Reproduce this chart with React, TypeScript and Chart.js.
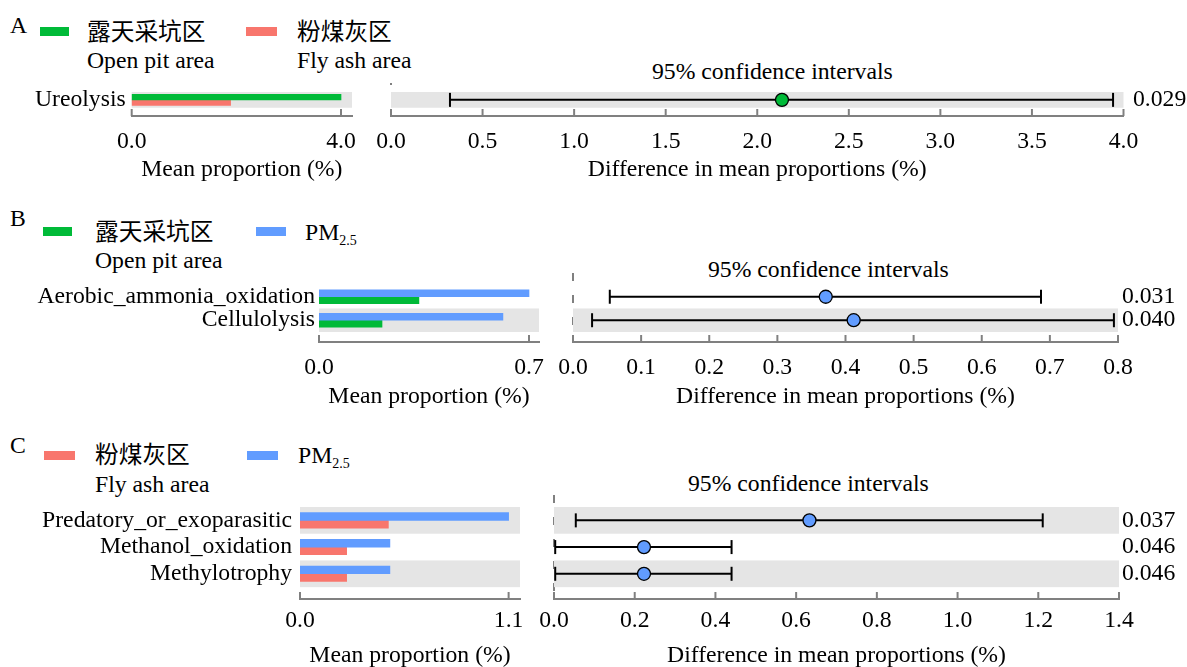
import React, { useEffect, useRef } from "react";
import { Chart, registerables } from "chart.js";
Chart.register(...registerables);

const FONT = "'Liberation Serif', 'Noto Sans CJK SC', serif";
Chart.defaults.font.family = FONT;
Chart.defaults.color = "#000";

const GREEN = "#00BA38";
const RED = "#F8766D";
const BLUE = "#619CFF";
const BAND = "#e5e5e5";
const AXIS = "#808080";
const FS = 23.7;

// ---------- Series names ----------
const openPitZh = "露天采坑区";
const openPitEn = "Open pit area";
const flyAshZh = "粉煤灰区";
const flyAshEn = "Fly ash area";
const pmMain = "PM";
const pmSub = "2.5";
const ciTitle = "95% confidence intervals";
const barAxisTitle = "Mean proportion (%)";
const ciAxisTitle = "Difference in mean proportions (%)";

// ---------- Panel A ----------
const catsA = ["Ureolysis"];
const openPitA = [4.0];
const flyAshA = [1.89];
const barTicksA = [0, 4.0];
const meanDiffA = [2.135];
const lowerA = [0.322];
const upperA = [3.943];
const pValA = ["0.029"];
const ciTicksA = [0, 0.5, 1.0, 1.5, 2.0, 2.5, 3.0, 3.5, 4.0];

// ---------- Panel B ----------
const catsB = ["Aerobic_ammonia_oxidation", "Cellulolysis"];
const pm25B = [0.7, 0.613];
const openPitB = [0.333, 0.21];
const barTicksB = [0, 0.7];
const meanDiffB = [0.371, 0.412];
const lowerB = [0.054, 0.028];
const upperB = [0.687, 0.794];
const pValB = ["0.031", "0.040"];
const ciTicksB = [0, 0.1, 0.2, 0.3, 0.4, 0.5, 0.6, 0.7, 0.8];

// ---------- Panel C ----------
const catsC = ["Predatory_or_exoparasitic", "Methanol_oxidation", "Methylotrophy"];
const pm25C = [1.1, 0.474, 0.474];
const flyAshC = [0.466, 0.246, 0.246];
const barTicksC = [0, 1.1];
const meanDiffC = [0.633, 0.223, 0.223];
const lowerC = [0.054, 0.003, 0.003];
const upperC = [1.211, 0.44, 0.44];
const pValC = ["0.037", "0.046", "0.046"];
const ciTicksC = [0, 0.2, 0.4, 0.6, 0.8, 1.0, 1.2, 1.4];

const panels = [
  {
    cats: catsA,
    bars: [
      { values: openPitA, color: GREEN },
      { values: flyAshA, color: RED },
    ],
    barTicks: barTicksA, barMax: 4.21,
    mean: meanDiffA, lo: lowerA, hi: upperA, p: pValA,
    ciTicks: ciTicksA, ciMax: 4.0, ptColor: GREEN,
    g: { barL: 131.7, barR: 351.7, ciL: 391, ciR: 1123.5, top: 92.3, rowH: 16, axisY: 116.7,
      barThick: 5.5, tickPad: 11.5, titleOff: 53.5, catPad: 6, pPad: 9.5, zeroLead: 9, zeroDash: [2, 40] },
  },
  {
    cats: catsB,
    bars: [
      { values: pm25B, color: BLUE },
      { values: openPitB, color: GREEN },
    ],
    barTicks: barTicksB, barMax: 0.7333,
    mean: meanDiffB, lo: lowerB, hi: upperB, p: pValB,
    ciTicks: ciTicksB, ciMax: 0.8, ptColor: BLUE,
    g: { barL: 319, barR: 539, ciL: 573, ciR: 1118, top: 284.9, rowH: 23.4, axisY: 341.7,
      barThick: 7, tickPad: 11.5, titleOff: 55, catPad: 4, pPad: 4, zeroLead: 12, zeroDash: [8, 14] },
  },
  {
    cats: catsC,
    bars: [
      { values: pm25C, color: BLUE },
      { values: flyAshC, color: RED },
    ],
    barTicks: barTicksC, barMax: 1.16,
    mean: meanDiffC, lo: lowerC, hi: upperC, p: pValC,
    ciTicks: ciTicksC, ciMax: 1.4, ptColor: BLUE,
    g: { barL: 300, barR: 520, ciL: 553.5, ciR: 1118, top: 506.7, rowH: 26.6, axisY: 598.3,
      barThick: 7.7, tickPad: 7.5, titleOff: 57, catPad: 8, pPad: 3, zeroLead: 12, zeroDash: [8, 14] },
  },
];

const PAD_T = 30;
const PAD_B = 72;

const decorPlugin = {
  id: "decor",
  beforeDatasetsDraw(chart: any, _a: any, opts: any) {
    const { ctx, chartArea } = chart;
    const xs = chart.scales.x;
    const ys = chart.scales.y;
    ctx.save();
    if (opts.zeroLine) {
      const x0 = xs.getPixelForValue(0);
      ctx.strokeStyle = AXIS;
      ctx.lineWidth = 2;
      ctx.setLineDash([opts.dashOn, opts.dashOff]);
      ctx.beginPath();
      ctx.moveTo(x0, chartArea.top - opts.zeroLead);
      ctx.lineTo(x0, chartArea.bottom);
      ctx.stroke();
      ctx.setLineDash([]);
    }
    ctx.fillStyle = BAND;
    for (let i = 0; i < opts.n; i++) {
      if ((opts.n - 1 - i) % 2 !== 0) continue;
      const y1 = ys.getPixelForValue(i - 0.5);
      const y2 = ys.getPixelForValue(i + 0.5);
      ctx.fillRect(chartArea.left, Math.min(y1, y2), chartArea.right - chartArea.left, Math.abs(y2 - y1));
    }
    ctx.restore();
  },
  afterDatasetsDraw(chart: any) {
    const { ctx, chartArea } = chart;
    const xs = chart.scales.x;
    ctx.save();
    ctx.strokeStyle = AXIS;
    ctx.lineWidth = 2;
    xs.ticks.forEach((t: any) => {
      const px = xs.getPixelForValue(t.value);
      ctx.beginPath();
      ctx.moveTo(px, chartArea.bottom);
      ctx.lineTo(px, chartArea.bottom - 7);
      ctx.stroke();
    });
    ctx.restore();
  },
};

function yMax(p: any) {
  const n = p.cats.length;
  const gap = p.g.axisY - p.g.top - n * p.g.rowH;
  return n - 0.5 + gap / p.g.rowH;
}

function xAxis(p: any, max: number, ticks: number[], title: string) {
  return {
    type: "linear",
    position: "bottom",
    min: 0,
    max,
    offset: false,
    grid: { display: false, drawTicks: false, offset: false },
    border: { display: true, color: AXIS, width: 2 },
    ticks: {
      padding: p.g.tickPad,
      font: { size: FS, family: FONT },
      color: "#000",
      maxRotation: 0,
      autoSkip: false,
      callback: (v: any) => Number(v).toFixed(1),
    },
    afterBuildTicks: (s: any) => {
      s.ticks = ticks.map((v) => ({ value: v }));
    },
    afterFit: (s: any) => {
      s.height = PAD_B;
    },
    title: {
      display: true,
      text: title,
      font: { size: FS, family: FONT },
      color: "#000",
      padding: { top: 0, bottom: PAD_B - p.g.titleOff - FS * 0.6 },
    },
  };
}

function yAxis(p: any, position: string, labels: string[], pad: number, width: number) {
  return {
    type: "linear",
    position,
    reverse: true,
    offset: false,
    min: -0.5,
    max: yMax(p),
    grid: { display: false, drawTicks: false, offset: false },
    border: { display: false },
    ticks: {
      padding: pad,
      autoSkip: false,
      font: { size: FS, family: FONT },
      color: "#000",
      callback: (v: any) => (labels[v] !== undefined ? labels[v] : ""),
    },
    afterBuildTicks: (s: any) => {
      s.ticks = p.cats.map((_: any, i: number) => ({ value: i }));
    },
    afterFit: (s: any) => {
      s.width = width;
    },
  };
}

function barChart(p: any) {
  const g = p.g;
  const rect = { left: 0, top: g.top - PAD_T, width: g.barR + 20, height: g.axisY - g.top + PAD_T + PAD_B };
  const make = () => ({
    type: "bar",
    data: {
      datasets: p.bars.map((s: any) => ({
        data: p.cats.map((_: any, i: number) => ({ x: s.values[i], y: i })),
        backgroundColor: s.color,
        borderWidth: 0,
        barThickness: g.barThick,
      })),
    },
    options: {
      indexAxis: "y",
      animation: false,
      responsive: false,
      events: [],
      layout: { padding: { top: PAD_T, right: 20, left: 0, bottom: 0 } },
      plugins: {
        legend: { display: false },
        tooltip: { enabled: false },
        decor: { n: p.cats.length, zeroLine: false },
      },
      scales: {
        x: xAxis(p, p.barMax, p.barTicks, barAxisTitle),
        y: yAxis(p, "left", p.cats, g.catPad, g.barL),
      },
    },
    plugins: [decorPlugin],
  });
  return { rect, make };
}

function ciChart(p: any) {
  const g = p.g;
  const rightW = 1187 - g.ciR;
  const rect = { left: g.ciL - 30, top: g.top - PAD_T, width: g.ciR - g.ciL + 30 + rightW, height: g.axisY - g.top + PAD_T + PAD_B };
  const make = () => ({
    type: "scatter",
    data: {
      datasets: [
        {
          data: p.mean.map((m: number, i: number) => ({ x: m, y: i })),
          showLine: false,
          pointStyle: "circle",
          pointRadius: 6.5,
          pointBackgroundColor: p.ptColor,
          pointBorderColor: "#000",
          pointBorderWidth: 1.3,
          order: 0,
          clip: false,
        },
        ...p.cats.map((_: any, i: number) => ({
          data: [
            { x: p.lo[i], y: i },
            { x: p.hi[i], y: i },
          ],
          showLine: true,
          borderColor: "#000",
          borderWidth: 2,
          pointStyle: "line",
          pointRotation: 90,
          pointRadius: 7,
          pointBorderColor: "#000",
          pointBorderWidth: 2,
          order: 1,
          clip: false,
        })),
      ],
    },
    options: {
      animation: false,
      responsive: false,
      events: [],
      layout: { padding: { top: PAD_T, right: 0, left: 30, bottom: 0 } },
      plugins: {
        legend: { display: false },
        tooltip: { enabled: false },
        decor: { n: p.cats.length, zeroLine: true, zeroLead: g.zeroLead, dashOn: g.zeroDash[0], dashOff: g.zeroDash[1] },
      },
      scales: {
        x: xAxis(p, p.ciMax, p.ciTicks, ciAxisTitle),
        y: yAxis(p, "right", p.p, g.pPad, rightW),
      },
    },
    plugins: [decorPlugin],
  });
  return { rect, make };
}

function ChartBox({ rect, make }: any) {
  const ref = useRef<HTMLCanvasElement>(null);
  useEffect(() => {
    const c = new Chart(ref.current as HTMLCanvasElement, make());
    return () => c.destroy();
  }, []);
  return (
    <canvas
      ref={ref}
      width={Math.round(rect.width)}
      height={Math.round(rect.height)}
      style={{ position: "absolute", left: rect.left, top: rect.top, width: Math.round(rect.width), height: Math.round(rect.height) }}
    />
  );
}

function T({ x, cy, children }: any) {
  return (
    <div style={{ position: "absolute", left: x, top: cy - FS * 0.6, fontSize: FS, lineHeight: `${FS * 1.2}px`, whiteSpace: "nowrap", color: "#000" }}>
      {children}
    </div>
  );
}

function Swatch({ x, y, w, color }: any) {
  return <div style={{ position: "absolute", left: x, top: y, width: w, height: 9, background: color }} />;
}

function PM() {
  return (
    <span>
      {pmMain}
      <span style={{ fontSize: 14, position: "relative", top: 5 }}>{pmSub}</span>
    </span>
  );
}

export default function App() {
  const charts = panels.flatMap((p) => [barChart(p), ciChart(p)]);
  return (
    <div style={{ position: "fixed", left: 0, top: 0, width: 1187, height: 667, background: "#fff", overflow: "hidden", fontFamily: FONT }}>
      {/* Panel A header */}
      <T x={10} cy={25}>A</T>
      <Swatch x={40} y={27} w={29} color={GREEN} />
      <T x={87} cy={32}>{openPitZh}</T>
      <T x={87} cy={60}>{openPitEn}</T>
      <Swatch x={246} y={27} w={31} color={RED} />
      <T x={297} cy={32}>{flyAshZh}</T>
      <T x={297} cy={60}>{flyAshEn}</T>
      <T x={652} cy={71}>{ciTitle}</T>

      {/* Panel B header */}
      <T x={10} cy={218}>B</T>
      <Swatch x={43} y={227} w={29} color={GREEN} />
      <T x={95} cy={232}>{openPitZh}</T>
      <T x={95} cy={260}>{openPitEn}</T>
      <Swatch x={256} y={227} w={30} color={BLUE} />
      <T x={305} cy={232}><PM /></T>
      <T x={708} cy={269}>{ciTitle}</T>

      {/* Panel C header */}
      <T x={10} cy={445}>C</T>
      <Swatch x={44} y={451} w={31} color={RED} />
      <T x={95} cy={455}>{flyAshZh}</T>
      <T x={95} cy={484}>{flyAshEn}</T>
      <Swatch x={247} y={451} w={31} color={BLUE} />
      <T x={298} cy={455}><PM /></T>
      <T x={688} cy={483}>{ciTitle}</T>

      {charts.map((c, i) => (
        <ChartBox key={i} rect={c.rect} make={c.make} />
      ))}
    </div>
  );
}
